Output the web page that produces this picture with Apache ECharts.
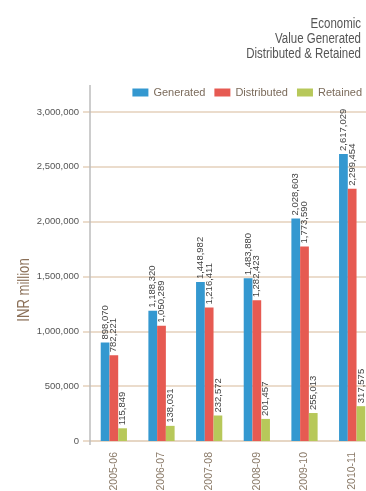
<!DOCTYPE html>
<html>
<head>
<meta charset="utf-8">
<script src="https://cdn.jsdelivr.net/npm/echarts@6/dist/echarts.min.js"></script>
<style>
  html, body { margin: 0; padding: 0; background: #fff; }
  #chart { width: 366px; height: 491px; }
</style>
</head>
<body>
<div id="chart"></div>
<script>
// Economic value figures, INR million
const years = ['2005-06', '2006-07', '2007-08', '2008-09', '2009-10', '2010-11'];
const generated = [898070, 1188320, 1448982, 1483880, 2028603, 2617029];
const distributed = [782221, 1050289, 1216411, 1282423, 1773590, 2299454];
const retained = [115849, 138031, 232572, 201457, 255013, 317575];
const seriesNames = ['Generated', 'Distributed', 'Retained'];
const yTicks = { min: 0, max: 3000000, step: 500000 };

const FONT = "'Liberation Sans', Arial, sans-serif";
const NARROW = 0.82; // horizontal squeeze for the free-standing texts
const colors = ['#3498d0', '#e65a52', '#b7c85a'];
const fmt = v => Number(v).toLocaleString('en-US');

const chart = echarts.init(document.getElementById('chart'), null, { renderer: 'canvas' });

const GRID = { left: 90, top: 112, width: 286, height: 329 };

function barSeries(name, data, color) {
  return {
    name: name,
    type: 'bar',
    data: data,
    itemStyle: { color: color },
    barGap: '0%',
    barCategoryGap: '45%',
    label: {
      show: true,
      position: 'top',
      rotate: 90,
      align: 'left',
      verticalAlign: 'middle',
      distance: 3,
      fontFamily: FONT,
      fontSize: 9.5,
      color: '#444',
      formatter: p => fmt(p.value)
    }
  };
}

chart.setOption({
  animation: false,
  color: colors,
  legend: {
    data: seriesNames,
    right: -1,
    top: 82,
    itemWidth: 16,
    itemHeight: 8,
    itemGap: 9,
    icon: 'rect',
    textStyle: { fontFamily: FONT, fontSize: 11, color: '#7b6b5b' }
  },
  grid: Object.assign({ outerBoundsMode: 'none', containLabel: false }, GRID),
  xAxis: {
    type: 'category',
    data: years,
    axisLine: { lineStyle: { color: '#e6d6c4', width: 2 } },
    axisTick: { alignWithLabel: true, length: 4, lineStyle: { color: '#999' } },
    axisLabel: {
      rotate: 90,
      margin: 11,
      fontFamily: FONT,
      fontSize: 10.5,
      color: '#8a7a68'
    }
  },
  yAxis: {
    type: 'value',
    min: yTicks.min,
    max: yTicks.max,
    interval: yTicks.step,
    axisLine: { show: false },
    axisTick: { show: true, length: 7, lineStyle: { color: '#ebdccc', width: 2 } },
    splitLine: { lineStyle: { color: '#ebdccc', width: 2 } },
    axisLabel: {
      margin: 11,
      fontFamily: FONT,
      fontSize: 9.5,
      color: '#555',
      formatter: v => fmt(v)
    }
  },
  graphic: [
    {
      // vertical value axis line, running past both ends of the plot
      type: 'line',
      shape: { x1: GRID.left, y1: 85, x2: GRID.left, y2: 445 },
      style: { stroke: '#bdbdbd', lineWidth: 1.5 },
      z: 10
    },
    {
      type: 'text',
      x: 361,
      y: 17,
      scaleX: NARROW,
      style: {
        text: 'Economic\nValue Generated\nDistributed & Retained',
        fontFamily: FONT,
        fontSize: 14,
        lineHeight: 15,
        fill: '#555',
        align: 'right',
        verticalAlign: 'top'
      }
    },
    {
      type: 'text',
      x: 25,
      y: 290,
      rotation: Math.PI / 2,
      scaleX: NARROW,
      style: {
        text: 'INR million',
        fontFamily: FONT,
        fontSize: 16,
        fill: '#8b7058',
        align: 'center',
        verticalAlign: 'middle'
      }
    }
  ],
  series: [
    barSeries(seriesNames[0], generated, colors[0]),
    barSeries(seriesNames[1], distributed, colors[1]),
    barSeries(seriesNames[2], retained, colors[2])
  ]
});
</script>
</body>
</html>
